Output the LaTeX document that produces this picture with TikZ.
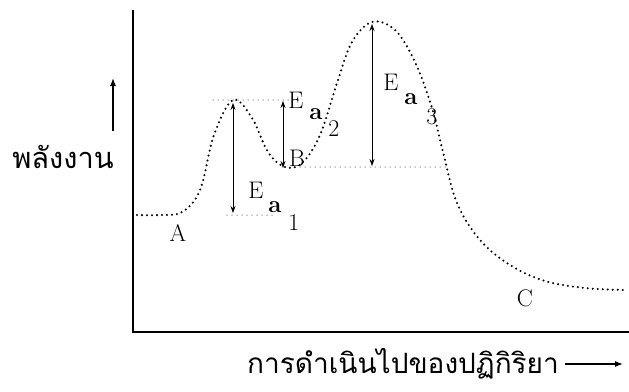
\documentclass[tikz,border=0pt]{standalone}
\usepackage{fontspec}
\newfontfamily\thaifont[Script=Thai]{Loma}
\usetikzlibrary{arrows.meta,positioning}

\begin{document}
\begin{tikzpicture}[x=1pt, y=-1pt, every node/.style={inner sep=0pt, font=\fontsize{24}{26}\selectfont},
  curveline/.style={line width=2.3pt, dash pattern=on 0pt off 5pt, line cap=round},
  levelline/.style={line width=1pt, dash pattern=on 0pt off 5pt, line cap=round},
  gapline/.style={line width=0.7pt, {Stealth[length=7pt,width=5pt]}-{Stealth[length=7pt,width=5pt]}}]
  \useasboundingbox (0,0) rectangle (629,391);

  % Axes
  \coordinate (yTop) at (133,10);
  \coordinate (origin) at (133,332);
  \coordinate (xEnd) at (629,332);
  \draw[line width=1.3pt] (yTop) -- (origin) -- (xEnd);

  % Energy axis label
  \coordinate (eLow) at (113,131);
  \coordinate (eHigh) at (113,78);
  \draw[line width=1.3pt, -{Latex[length=8pt,width=6pt]}] (eLow) -- (eHigh);
  \node[font=\fontsize{29}{31}\selectfont] (energy) at (63,157) {\thaifont พลังงาน};

  % Reaction path label
  \node[anchor=west, font=\fontsize{28}{30}\selectfont] (progress) at (247,364) {\thaifont การดำเนินไปของปฏิกิริยา};
  \coordinate (pEnd) at (623,364);
  \draw[line width=1.3pt, -{Latex[length=8pt,width=6pt]}] (progress.east) ++(6,0) coordinate (pStart) (pStart) -- (pEnd);

  % Key points of the curve
  \coordinate (levelA) at (137,215);
  \coordinate (peakOne) at (233,100);
  \coordinate (levelB) at (285,167);
  \coordinate (peakTwo) at (372,22);
  \coordinate (levelC) at (625,290);

  % Energy curve
  \draw[curveline] plot[smooth, tension=0.6] coordinates {
    (137,215) (160,215) (182,212) (200,190) (214,135) (233,100) (252,118)
    (268,152) (285,167) (302,163) (320,135) (338,80) (352,42) (372,22)
    (395,30) (415,62) (432,108) (443,152) (457,203) (480,240) (510,265)
    (545,281) (585,288) (625,290)};

  % Reference levels
  \draw[levelline] (213,100) -- (300,100);
  \draw[levelline] (levelB) -- (445,167);
  \draw[levelline] (227,215) -- (275,215);

  % Activation energies
  \coordinate (aOneTop) at (233,103);
  \coordinate (aOneBot) at (233,213);
  \draw[gapline] (aOneTop) -- (aOneBot);
  \coordinate (aTwoTop) at (283,101);
  \coordinate (aTwoBot) at (283,168);
  \draw[gapline] (aTwoTop) -- (aTwoBot);
  \coordinate (aThreeTop) at (372,24);
  \coordinate (aThreeBot) at (372,166);
  \draw[gapline] (aThreeTop) -- (aThreeBot);

  % Labels
  \node (labA) at (178,233) {A};
  \node (labB) at (297,158) {B};
  \node (labC) at (525,298) {C};
  \node (eOne) at (256,190) {E};
  \node (aOne) at (275,207) {\bfseries a};
  \node (nOne) at (294,223) {1};
  \node (eTwo) at (296,100) {E};
  \node (aTwo) at (316,114) {\bfseries a};
  \node (nTwo) at (334,129) {2};
  \node (eThree) at (391,82) {E};
  \node (aThree) at (411,99) {\bfseries a};
  \node (nThree) at (432,117) {3};
\end{tikzpicture}
\end{document}
